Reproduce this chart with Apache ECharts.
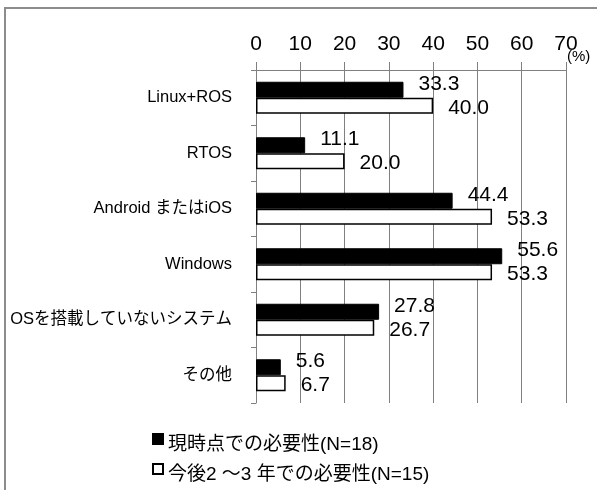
<!DOCTYPE html>
<html>
<head>
<meta charset="utf-8">
<script src="https://cdn.jsdelivr.net/npm/echarts@6/dist/echarts.min.js"></script>
<style>html,body{margin:0;padding:0;background:#fff}#c{width:597px;height:490px}</style>
</head>
<body>
<div id="c"></div>
<script>
const categories = ['Linux+ROS', 'RTOS', 'Android またはiOS', 'Windows', 'OSを搭載していないシステム', 'その他'];
const currentValues = [33.3, 11.1, 44.4, 55.6, 27.8, 5.6];
const futureValues = [40.0, 20.0, 53.3, 53.3, 26.7, 6.7];
const seriesNames = ['現時点での必要性(N=18)', '今後2 ～3 年での必要性(N=15)'];
const xTicks = { min: 0, max: 70, interval: 10 };

const FONT = "'Liberation Sans', 'Noto Sans CJK JP', sans-serif";
const chart = echarts.init(document.getElementById('c'), null, { renderer: 'canvas' });
chart.setOption({
  animation: false,
  backgroundColor: '#fff',
  textStyle: { fontFamily: FONT, color: '#000' },
  graphic: [{
    type: 'rect', shape: { x: 5, y: 8, width: 800, height: 800 },
    style: { fill: 'none', stroke: '#8c8c8c', lineWidth: 2 }, silent: true
  }],
  grid: { left: 256, right: 31, top: 70, bottom: 87, containLabel: false, outerBoundsMode: 'none' },
  legend: {
    orient: 'vertical', left: 147, top: 428, height: 200, itemWidth: 10, itemHeight: 22, itemGap: 6,
    icon: 'path://M0,0L10,0L10,10L0,10ZM0,22L0,22',
    textStyle: { fontSize: 19, color: '#000', fontFamily: FONT },
    data: seriesNames
  },
  xAxis: {
    type: 'value', position: 'top', min: xTicks.min, max: xTicks.max, interval: xTicks.interval,
    name: '(%)', nameLocation: 'end', nameGap: 1, nameMoveOverlap: false,
    nameTextStyle: { fontSize: 15, color: '#000', verticalAlign: 'bottom', padding: [0, 0, 6, 0], fontFamily: FONT },
    axisLine: { show: true, lineStyle: { color: '#808080', width: 1 } },
    axisTick: { show: true, length: 8, lineStyle: { color: '#808080' } },
    axisLabel: { fontSize: 21, color: '#000', margin: 15, fontFamily: FONT },
    splitLine: { show: true, lineStyle: { color: '#808080', width: 1 } }
  },
  yAxis: {
    type: 'category', data: categories, inverse: true,
    axisLine: { show: true, lineStyle: { color: '#808080', width: 1 } },
    axisTick: { show: true, length: 5, lineStyle: { color: '#808080' } },
    axisLabel: { fontSize: 16.5, color: '#000', margin: 24, fontFamily: FONT },
    splitLine: { show: false }
  },
  series: [{
    name: seriesNames[0], type: 'bar', data: currentValues, barWidth: 16, barGap: '0%',
    itemStyle: { color: '#000', borderColor: '#000', borderWidth: 1 },
    label: { show: true, position: 'right', distance: 15, offset: [0, -6], fontSize: 21, color: '#000', fontFamily: FONT,
      formatter: p => p.value.toFixed(1) }
  }, {
    name: seriesNames[1], type: 'bar', data: futureValues, barWidth: 16, barGap: '0%',
    itemStyle: { color: '#fff', borderColor: '#000', borderWidth: 1.5 },
    label: { show: true, position: 'right', distance: 15, offset: [0, 2], fontSize: 21, color: '#000', fontFamily: FONT,
      formatter: p => p.value.toFixed(1) }
  }]
});
</script>
</body>
</html>
